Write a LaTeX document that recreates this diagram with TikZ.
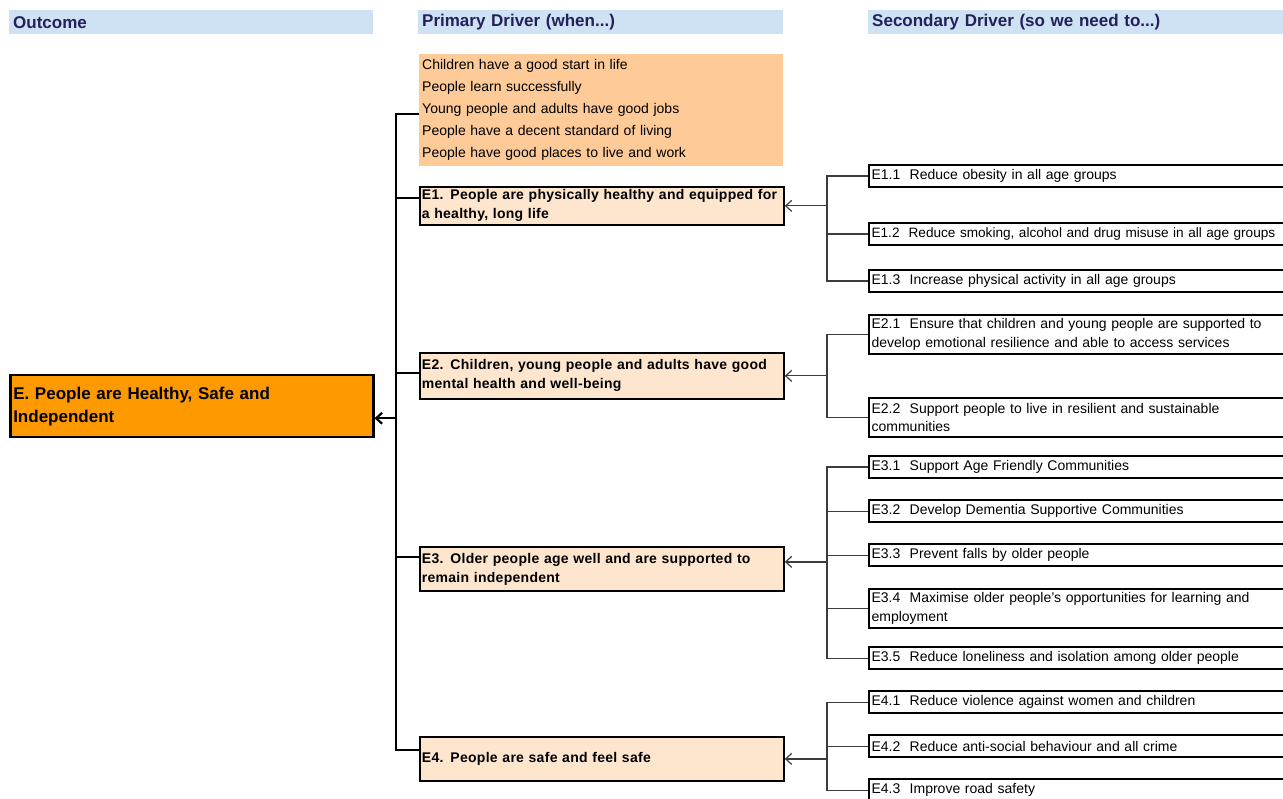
\documentclass[tikz,border=0pt]{standalone}
\usepackage{fontspec}
\setmainfont{Liberation Sans}
\usetikzlibrary{arrows.meta}
\definecolor{hdrblue}{RGB}{207,226,243}
\definecolor{navy}{RGB}{36,32,92}
\definecolor{peach}{RGB}{253,202,152}
\definecolor{lightpeach}{RGB}{253,229,206}
\definecolor{orng}{RGB}{255,153,0}
\definecolor{connc}{RGB}{60,60,60}
\begin{document}
\begin{tikzpicture}[x=1pt,y=-1pt,
 hdr/.style={fill=hdrblue, anchor=north west, minimum height=24, inner xsep=4, inner ysep=0, text=navy, font=\fontsize{17}{20}\selectfont\bfseries, align=left},
 listbox/.style={fill=peach, anchor=north west, text width=358, inner xsep=3, inner ysep=0, minimum height=112, font=\fontsize{14}{22}\selectfont, align=left},
 pbox/.style={draw, line width=1.8, fill=lightpeach, anchor=north west, inner xsep=2, inner ysep=0, font=\fontsize{14}{19}\selectfont\bfseries\addfontfeature{LetterSpace=2}, align=left, text width=360},
 outbox/.style={draw, line width=2.5, fill=orng, anchor=north west, inner xsep=3, inner ysep=0, font=\fontsize{17}{23}\selectfont\bfseries, align=left, text width=357, minimum height=62},
 sbox/.style={draw, line width=2.2, fill=white, anchor=north west, inner xsep=2.5, inner ysep=0, font=\fontsize{14}{18.5}\selectfont, align=left, text width=440},
 trunk/.style={line width=2.2},
 conn/.style={line width=1.2, draw=connc},
 tip/.style={-{Straight Barb[length=6,width=11]}}
]
\useasboundingbox (0,0) rectangle (1283,799);
\clip (0,0) rectangle (1283,799);

% headers
\node[hdr, text width=356] (h1) at (9,10) {Outcome};
\node[hdr, text width=357] (h2) at (418,10) {Primary Driver (when...)};
\node[hdr, text width=407] (h3) at (868,10) {Secondary Driver (so we need to...)};

% outcome
\node[outbox] (out) at (9,374) {E. People are Healthy, Safe and\\Independent};

% primary
\node[listbox] (list) at (419,54) {Children have a good start in life\\People learn successfully\\Young people and adults have good jobs\\People have a decent standard of living\\People have good places to live and work};
\node[pbox, minimum height=38] (e1) at (419,186) {E1. People are physically healthy and equipped for\\a healthy, long life};
\node[pbox, minimum height=46] (e2) at (419,352) {E2. Children, young people and adults have good\\mental health and well-being};
\node[pbox, minimum height=44] (e3) at (419,546) {E3. Older people age well and are supported to\\remain independent};
\node[pbox, minimum height=44] (e4) at (419,736) {E4. People are safe and feel safe};

% secondary
\node[sbox, minimum height=22] (s11) at (868,164) {E1.1\ \ Reduce obesity in all age groups};
\node[sbox, minimum height=22, font=\fontsize{13.6}{18.5}\selectfont] (s12) at (868,222) {E1.2\ \ Reduce smoking, alcohol and drug misuse in all age groups};
\node[sbox, minimum height=22] (s13) at (868,269) {E1.3\ \ Increase physical activity in all age groups};
\node[sbox, minimum height=39] (s21) at (868,314) {E2.1\ \ Ensure that children and young people are supported to\\develop emotional resilience and able to access services};
\node[sbox, minimum height=39] (s22) at (868,397) {E2.2\ \ Support people to live in resilient and sustainable\\communities};
\node[sbox, minimum height=22] (s31) at (868,455) {E3.1\ \ Support Age Friendly Communities};
\node[sbox, minimum height=22] (s32) at (868,499) {E3.2\ \ Develop Dementia Supportive Communities};
\node[sbox, minimum height=22] (s33) at (868,543) {E3.3\ \ Prevent falls by older people};
\node[sbox, minimum height=39] (s34) at (868,588) {E3.4\ \ Maximise older people’s opportunities for learning and\\employment};
\node[sbox, minimum height=22] (s35) at (868,646) {E3.5\ \ Reduce loneliness and isolation among older people};
\node[sbox, minimum height=22] (s41) at (868,690) {E4.1\ \ Reduce violence against women and children};
\node[sbox, minimum height=22] (s42) at (868,734) {E4.2\ \ Reduce anti-social behaviour and all crime};
\node[sbox, minimum height=22] (s43) at (868,778) {E4.3\ \ Improve road safety};

% main trunk
\coordinate (tb) at (396,750);
\draw[trunk] ([yshift=-4]list.west) -- ++(-23,0) -- (tb) -- ([yshift=-14]e4.north west);
\draw[trunk] ([yshift=-12]e1.north west) -- ++(-23,0);
\draw[trunk] ([yshift=-21]e2.north west) -- ++(-23,0);
\draw[trunk] ([yshift=-11]e3.north west) -- ++(-23,0);
\coordinate (oa) at ([yshift=-12]out.east);
\draw[trunk, tip] (oa -| tb) -- (oa);

% secondary buses
\coordinate (bx) at (827,0);
\draw[conn] (s11.west) -| (bx |- s13.west) -- (s13.west);
\draw[conn] (s12.west) -- (bx |- s12.west);
\draw[conn, tip] (bx |- e1.east) -- (e1.east);

\draw[conn] (s21.west) -| (bx |- s22.west) -- (s22.west);
\draw[conn, tip] (bx |- e2.east) -- (e2.east);

\draw[conn] (s31.west) -| (bx |- s35.west) -- (s35.west);
\draw[conn] (s32.west) -- (bx |- s32.west);
\draw[conn] (s33.west) -- (bx |- s33.west);
\draw[conn] (s34.west) -- (bx |- s34.west);
\coordinate (a3) at ([yshift=7]e3.east);
\draw[conn, tip] (bx |- a3) -- (a3);

\draw[conn] (s41.west) -| (bx |- s43.west) -- (s43.west);
\draw[conn] (s42.west) -- (bx |- s42.west);
\draw[conn, tip] (bx |- e4.east) -- (e4.east);
\end{tikzpicture}
\end{document}
